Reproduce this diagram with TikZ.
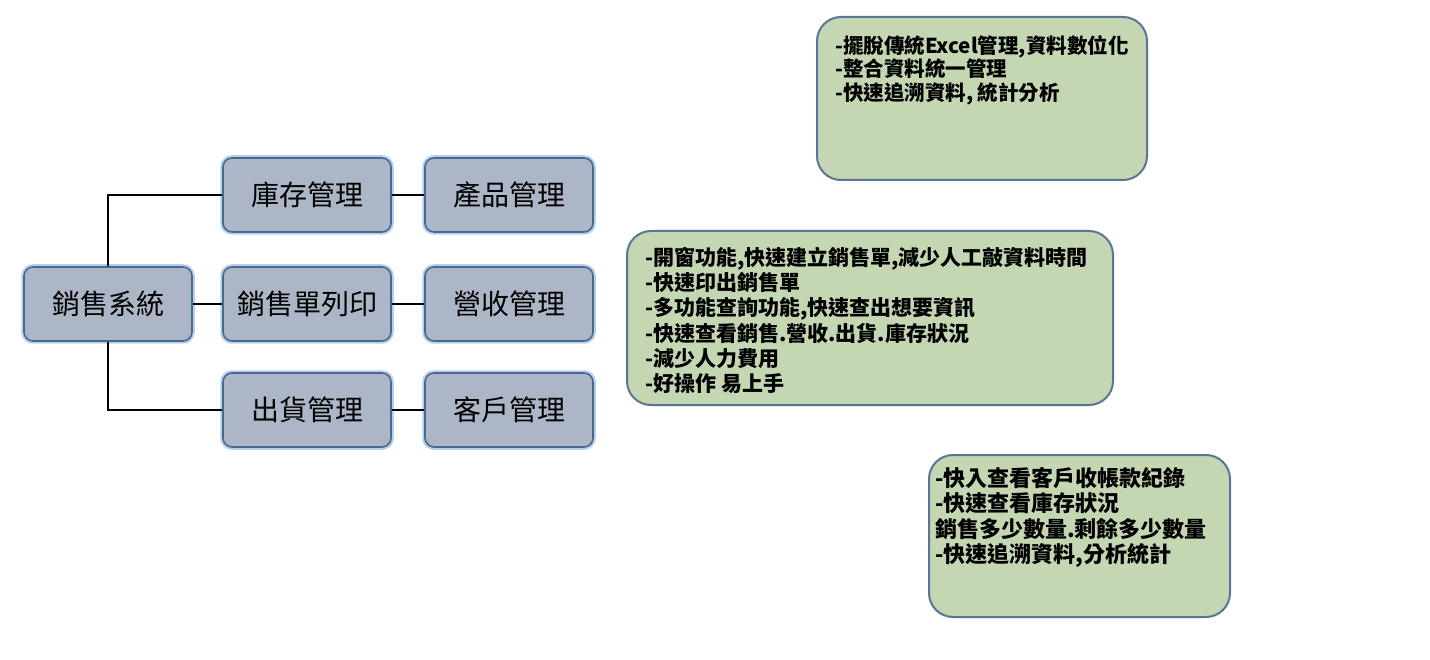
\documentclass[tikz,border=0pt]{standalone}
\usepackage{fontspec}
\setmainfont{Noto Sans CJK TC}
\definecolor{treefill}{RGB}{172,182,198}
\definecolor{treeline}{RGB}{74,104,142}
\definecolor{treeglow}{RGB}{160,196,232}
\definecolor{notefill}{RGB}{196,214,178}
\definecolor{noteedge}{RGB}{88,118,148}
\definecolor{noteshade}{RGB}{168,186,150}
\tikzset{
  treebox/.style={draw=treeline, line width=1.6pt, fill=treefill, rounded corners=9pt,
    minimum width=168pt, minimum height=74pt, inner sep=0pt,
    font=\fontsize{28}{30}\selectfont,
    preaction={draw=treeglow, line width=5.5pt, opacity=0.8}},
  notebox/.style={draw=noteedge, line width=2pt, rounded corners=24pt,
    fill=notefill, inner sep=0pt},
  notetext/.style={anchor=north west, align=left, inner sep=0pt, font=\bfseries},
  link/.style={draw=black, line width=1.6pt}
}
\begin{document}
\begin{tikzpicture}[x=1pt,y=-1pt]
\useasboundingbox (0,0) rectangle (1430,660);
% tree
\node[treebox] (root) at (108,304) {銷售系統};
\node[treebox] (inv) at (307,195) {庫存管理};
\node[treebox] (print) at (307,304) {銷售單列印};
\node[treebox] (ship) at (307,410) {出貨管理};
\node[treebox] (prod) at (509,195) {產品管理};
\node[treebox] (rev) at (509,304) {營收管理};
\node[treebox] (cust) at (509,410) {客戶管理};
\draw[link] (root.north) |- (inv.west);
\draw[link] (root.south) |- (ship.west);
\draw[link] (root.east) -- (print.west);
\draw[link] (inv.east) -- (prod.west);
\draw[link] (print.east) -- (rev.west);
\draw[link] (ship.east) -- (cust.west);
% notes
\node[notebox, minimum width=330pt, minimum height=163pt] (na) at (982,98.5) {};
\node[notetext, font=\bfseries\fontsize{20.5}{23.5}\selectfont] (ta) at (835,35)
  {-擺脫傳統Excel管理,資料數位化\\-整合資料統一管理\\-快速追溯資料, 統計分析};
\node[notebox, minimum width=486pt, minimum height=174pt] (nb) at (870,318) {};
\node[notetext, font=\bfseries\fontsize{21}{25.2}\selectfont] (tb) at (645,247)
  {-開窗功能,快速建立銷售單,減少人工敲資料時間\\-快速印出銷售單\\-多功能查詢功能,快速查出想要資訊\\-快速查看銷售.營收.出貨.庫存狀況\\-減少人力費用\\-好操作 易上手};
\node[notebox, minimum width=301pt, minimum height=162pt] (nc) at (1079.5,536) {};
\node[notetext, font=\bfseries\fontsize{22}{25.5}\selectfont] (tc) at (935,467)
  {-快入查看客戶收帳款紀錄\\-快速查看庫存狀況\\銷售多少數量.剩餘多少數量\\-快速追溯資料,分析統計};
\end{tikzpicture}
\end{document}
